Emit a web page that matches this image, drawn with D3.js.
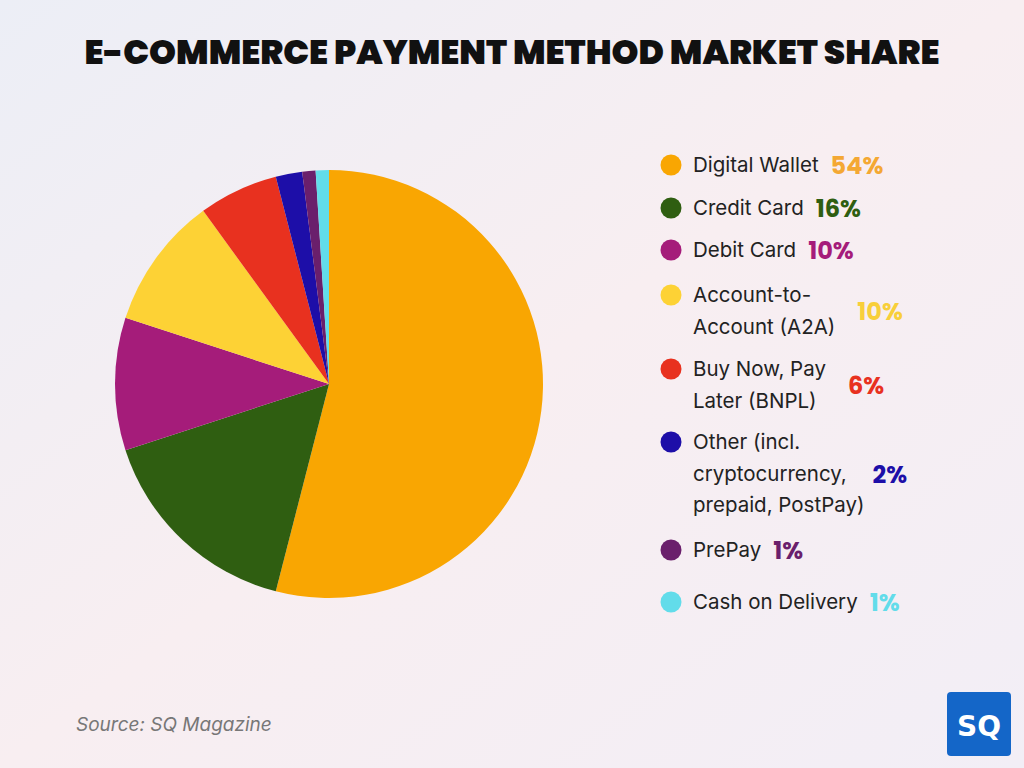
<!DOCTYPE html>
<html><head><meta charset="utf-8">
<script src="https://cdn.jsdelivr.net/npm/d3@7/dist/d3.min.js"></script>
<style>body{margin:0;}svg{display:block;}</style>
</head><body>
<svg id="c" width="1024" height="768"></svg>
<script>
const categories = ["Digital Wallet","Credit Card","Debit Card","Account-to-Account (A2A)","Buy Now, Pay Later (BNPL)","Other (incl. cryptocurrency, prepaid, PostPay)","PrePay","Cash on Delivery"];
const labelLines = [["Digital Wallet"],["Credit Card"],["Debit Card"],["Account-to-","Account (A2A)"],["Buy Now, Pay","Later (BNPL)"],["Other (incl.","cryptocurrency,","prepaid, PostPay)"],["PrePay"],["Cash on Delivery"]];
const values = [54,16,10,10,6,2,1,1];
const colors = ["#F9A602","#2F5E11","#A51C7A","#FDD235","#E8311F","#1D0EA8","#6A1F6C","#62DCEA"];
const pctColors = ["#F4A833","#2F5E11","#A51C7A","#F8CF3A","#E8311F","#1D0EA8","#6A1F6C","#62DCEA"];

const svg = d3.select("#c");
const defs = svg.append("defs");
const g = defs.append("linearGradient").attr("id","bg").attr("x1","0").attr("y1","0").attr("x2","1").attr("y2","1");
g.append("stop").attr("offset","0").attr("stop-color","#ECEEF6");
g.append("stop").attr("offset","0.5").attr("stop-color","#F8EEF1");
g.append("stop").attr("offset","1").attr("stop-color","#F2EEF6");
svg.append("rect").attr("width",1024).attr("height",768).attr("fill","url(#bg)");

svg.append("text").attr("x",512).attr("y",64).attr("text-anchor","middle")
  .attr("font-family","Poppins, 'DejaVu Sans', sans-serif").attr("font-weight","900")
  .attr("font-size",33).attr("textLength",855).attr("lengthAdjust","spacingAndGlyphs")
  .attr("fill","#111").text("E-COMMERCE PAYMENT METHOD MARKET SHARE");

const pie = d3.pie().sort(null).value(d=>d)(values);
const arc = d3.arc().innerRadius(0).outerRadius(214);
svg.append("g").attr("transform","translate(329,384)").selectAll("path").data(pie).join("path")
  .attr("d",arc).attr("fill",(d,i)=>colors[i]);

const firstY = [165,208,250,295,369,442,550,602];
const lh = 31.5;
const leg = svg.append("g");
labelLines.forEach((lines,i)=>{
  const n=lines.length, y0=firstY[i];
  leg.append("circle").attr("cx",671).attr("cy",y0).attr("r",10.5).attr("fill",colors[i]);
  const t = leg.append("text").attr("font-family","Inter, sans-serif").attr("font-size",20.5).attr("fill","#222");
  lines.forEach((l,j)=>t.append("tspan").attr("x",693).attr("y",y0+j*lh+7).text(l));
  const w = d3.max(t.selectAll("tspan").nodes(), n=>n.getComputedTextLength());
  const gap = n===1 ? 12 : (n===2 ? 22 : 8);
  leg.append("text").attr("x",693+w+gap).attr("y",y0+(n-1)*lh/2+9)
    .attr("font-family","Poppins, 'DejaVu Sans', sans-serif").attr("font-weight","bold").attr("font-size",24)
    .attr("fill",pctColors[i]).text(values[i]+"%");
});

svg.append("text").attr("x",76).attr("y",731).attr("font-family","Inter, sans-serif")
  .attr("font-style","italic").attr("font-size",19).attr("fill","#777").text("Source: SQ Magazine");
svg.append("rect").attr("x",947).attr("y",692).attr("width",64).attr("height",64).attr("rx",4).attr("fill","#1466C8");
svg.append("text").attr("x",979).attr("y",736).attr("text-anchor","middle").attr("font-family","'DejaVu Sans', sans-serif")
  .attr("font-weight","bold").attr("font-size",28).attr("fill","#fff").text("SQ");
</script>
</body></html>
